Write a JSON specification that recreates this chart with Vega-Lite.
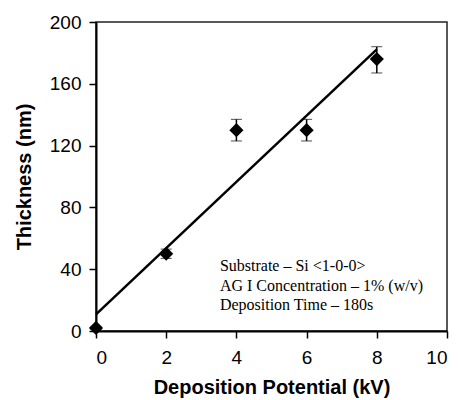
{
  "$schema": "https://vega.github.io/schema/vega-lite/v6.json",
  "width": 351,
  "height": 309,
  "autosize": {"type": "none"},
  "padding": {"left": 96, "top": 22, "right": 13, "bottom": 69},
  "background": "white",
  "config": {
    "view": {"stroke": "#222", "strokeWidth": 1.5},
    "axis": {
      "grid": false,
      "domainColor": "black",
      "domainWidth": 2,
      "tickColor": "black",
      "tickWidth": 1.5,
      "tickSize": 7,
      "labelFont": "Liberation Sans",
      "labelFontSize": 19,
      "labelColor": "black",
      "titleFont": "Liberation Sans",
      "titleFontSize": 20,
      "titleFontWeight": "bold",
      "titleColor": "black"
    }
  },
  "datasets": {
    "pts": [
      {"kv": 0, "t": 2, "lo": 1, "hi": 3},
      {"kv": 2, "t": 50, "lo": 47, "hi": 53},
      {"kv": 4, "t": 130, "lo": 123, "hi": 137},
      {"kv": 6, "t": 130, "lo": 123, "hi": 137},
      {"kv": 8, "t": 176, "lo": 167, "hi": 184}
    ],
    "fit": [
      {"kv": 0, "t": 10.8},
      {"kv": 8, "t": 182.3}
    ],
    "notes": [
      {"kv": 3.53, "t": 39, "label": "Substrate – Si <1-0-0>"},
      {"kv": 3.53, "t": 26, "label": "AG I Concentration – 1% (w/v)"},
      {"kv": 3.53, "t": 13.4, "label": "Deposition Time – 180s"}
    ]
  },
  "layer": [
    {
      "data": {"name": "fit"},
      "mark": {"type": "line", "color": "black", "strokeWidth": 2.5},
      "encoding": {
        "x": {"field": "kv", "type": "quantitative", "scale": {"domain": [0, 10]},
              "axis": {"values": [0, 2, 4, 6, 8, 10], "title": "Deposition Potential (kV)", "labelPadding": 10, "titlePadding": 10}},
        "y": {"field": "t", "type": "quantitative", "scale": {"domain": [0, 200]},
              "axis": {"values": [0, 40, 80, 120, 160, 200], "title": "Thickness (nm)", "labelPadding": 8, "titlePadding": 15}}
      }
    },
    {
      "data": {"name": "pts"},
      "mark": {"type": "errorbar", "ticks": {"size": 11, "color": "black", "strokeWidth": 1.5}, "rule": {"color": "black", "strokeWidth": 1.5}},
      "encoding": {
        "x": {"field": "kv", "type": "quantitative", "title": "Deposition Potential (kV)"},
        "y": {"field": "lo", "type": "quantitative", "title": "Thickness (nm)"},
        "y2": {"field": "hi"}
      }
    },
    {
      "data": {"name": "pts"},
      "mark": {"type": "point", "shape": "diamond", "filled": true, "color": "black", "size": 200, "opacity": 1},
      "encoding": {
        "x": {"field": "kv", "type": "quantitative", "title": "Deposition Potential (kV)"},
        "y": {"field": "t", "type": "quantitative", "title": "Thickness (nm)"}
      }
    },
    {
      "data": {"name": "notes"},
      "mark": {"type": "text", "font": "Liberation Serif", "fontSize": 16, "align": "left", "baseline": "alphabetic", "color": "black"},
      "encoding": {
        "x": {"field": "kv", "type": "quantitative", "title": "Deposition Potential (kV)"},
        "y": {"field": "t", "type": "quantitative", "title": "Thickness (nm)"},
        "text": {"field": "label"}
      }
    }
  ]
}
